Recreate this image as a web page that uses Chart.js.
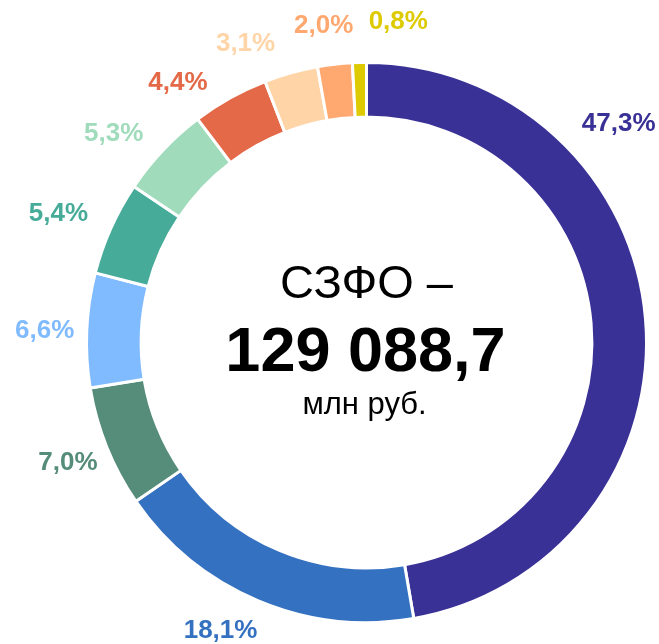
<!DOCTYPE html>
<html>
<head>
<meta charset="utf-8">
<script src="https://cdn.jsdelivr.net/npm/chart.js@4.4.1/dist/chart.umd.min.js"></script>
<style>
html,body{margin:0;padding:0;background:#fff;}
#wrap{width:659px;height:644px;position:relative;}
</style>
</head>
<body>
<div id="wrap"><canvas id="c" width="659" height="644"></canvas></div>
<script>
const categories = ['A','B','C','D','E','F','G','H','I','J'];
const values = [47.3, 18.1, 7.0, 6.6, 5.4, 5.3, 4.4, 3.1, 2.0, 0.8];
const labelsText = ['47,3%','18,1%','7,0%','6,6%','5,4%','5,3%','4,4%','3,1%','2,0%','0,8%'];
const colors = ['#3A3196','#3571C1','#558C7A','#80BBFF','#46AB98','#A0DCBC','#E46948','#FFD5A8','#FFA870','#DDCA00'];
const centerTitle = 'СЗФО –';
const centerValue = '129 088,7';
const centerUnit = 'млн руб.';

// label placement tweaks (degrees offset from slice middle, radial distance)
const labelAngleOffset = [-36.1, 4, 0, -0.4, -1.4, -3.8, -6.8, -6.4, -1.2, 7.1];
const labelRadius = [334, 323, 322, 322, 334, 328, 321, 322, 320, 322];

const labelPlugin = {
  id: 'outLabels',
  afterDatasetsDraw(chart) {
    const ctx = chart.ctx;
    const meta = chart.getDatasetMeta(0);
    ctx.save();
    ctx.font = 'bold 26px "Liberation Sans", Arial, sans-serif';
    ctx.textAlign = 'center';
    ctx.textBaseline = 'middle';
    meta.data.forEach((arc, i) => {
      const mid = (arc.startAngle + arc.endAngle) / 2 + labelAngleOffset[i] * Math.PI / 180;
      const r = labelRadius[i];
      const x = arc.x + r * Math.cos(mid);
      const y = arc.y + r * Math.sin(mid);
      ctx.fillStyle = colors[i];
      ctx.fillText(labelsText[i], x, y);
    });
    // center text
    const cx = meta.data[0].x, cy = meta.data[0].y;
    ctx.fillStyle = '#000';
    ctx.textBaseline = 'alphabetic';
    ctx.font = '47px "Liberation Sans", Arial, sans-serif';
    ctx.fillText(centerTitle, cx, cy - 45);
    ctx.font = 'bold 63px "Liberation Sans", Arial, sans-serif';
    ctx.fillText(centerValue, cx - 1, cy + 28);
    ctx.font = '31px "Liberation Sans", Arial, sans-serif';
    ctx.fillText(centerUnit, cx - 2, cy + 71);
    ctx.restore();
  }
};

new Chart(document.getElementById('c'), {
  type: 'doughnut',
  data: {
    labels: categories,
    datasets: [{
      data: values,
      backgroundColor: colors,
      borderColor: '#ffffff',
      borderWidth: 3
    }]
  },
  options: {
    responsive: false,
    animation: false,
    cutout: '80.5%',
    layout: { padding: { left: 85, right: 11, top: 61, bottom: 20 } },
    plugins: { legend: { display: false }, tooltip: { enabled: false } }
  },
  plugins: [labelPlugin]
});
</script>
</body>
</html>
